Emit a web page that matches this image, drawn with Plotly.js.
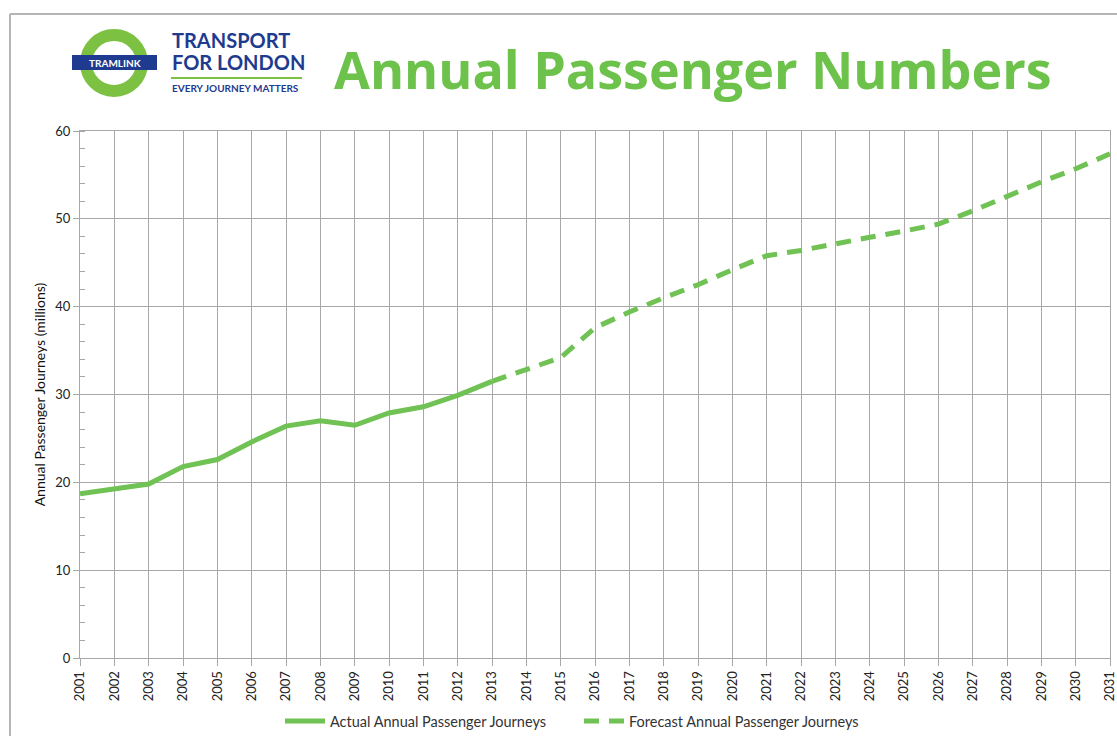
<!DOCTYPE html>
<html><head><meta charset="utf-8">
<script src="https://cdn.plot.ly/plotly-3.0.1.min.js"></script>
<style>html,body{margin:0;padding:0;background:#fff;overflow:hidden}#chart{width:1117px;height:736px}</style>
</head><body><div id="chart"></div>
<script>
// ---- data ----
const actualYears = [2001,2002,2003,2004,2005,2006,2007,2008,2009,2010,2011,2012,2013];
const actualValues = [18.7,19.25,19.8,21.8,22.6,24.6,26.4,27.0,26.5,27.9,28.6,29.9,31.5];
const forecastYears = [2013,2014,2015,2016,2017,2018,2019,2020,2021,2022,2023,2024,2025,2026,2027,2028,2029,2030,2031];
const forecastValues = [31.5,32.8,34.2,37.6,39.4,41.0,42.5,44.2,45.8,46.4,47.2,47.9,48.6,49.4,50.9,52.6,54.2,55.7,57.4];
const yearTickValues = [2001,2002,2003,2004,2005,2006,2007,2008,2009,2010,2011,2012,2013,2014,2015,2016,2017,2018,2019,2020,2021,2022,2023,2024,2025,2026,2027,2028,2029,2030,2031];
const yearTickLabels = yearTickValues.map(String);
const seriesNames = ['Actual Annual Passenger Journeys', 'Forecast Annual Passenger Journeys'];
const chartTitle = 'Annual Passenger Numbers';
const yAxisTitle = 'Annual Passenger Journeys (millions)';

// ---- layout helpers ----
const W = 1117, H = 736;
const M = {l: 80, r: 7, t: 131, b: 78};
const PW = W - M.l - M.r, PH = H - M.t - M.b;
const px = x => (x - M.l) / PW;
const py = y => (H - M.b - y) / PH;

const green = '#6fc253';
const titleGreen = '#6cc24a';
const logoGreen = '#7cc142';
const blue = '#1e3b8f';
const grid = '#a8a8a8';

const traces = [
  {x: actualYears, y: actualValues, name: seriesNames[0], type: 'scatter', mode: 'lines',
   line: {color: green, width: 5}},
  {x: forecastYears, y: forecastValues, name: seriesNames[1], type: 'scatter', mode: 'lines',
   line: {color: green, width: 5, dash: '15px,10px'}}
];

const shapes = [
  {type: 'line', xref: 'paper', yref: 'paper', x0: px(10), x1: px(1117), y0: py(14), y1: py(14), line: {color: '#b5b5b5', width: 2}},
  {type: 'line', xref: 'paper', yref: 'paper', x0: px(10), x1: px(10), y0: py(14), y1: py(736), line: {color: '#b5b5b5', width: 2}},
  {type: 'circle', xref: 'paper', yref: 'paper', x0: px(86), x1: px(142), y0: py(35), y1: py(91), line: {color: logoGreen, width: 12}, fillcolor: 'rgba(0,0,0,0)'},
  {type: 'rect', xref: 'paper', yref: 'paper', x0: px(72), x1: px(157), y0: py(55), y1: py(70), line: {width: 0}, fillcolor: blue},
  {type: 'line', xref: 'paper', yref: 'paper', x0: px(171), x1: px(302), y0: py(78), y1: py(78), line: {color: logoGreen, width: 2}}
];

const annotations = [
  {text: '<b>TRAMLINK</b>', xref: 'paper', yref: 'paper', x: px(114.5), y: py(62.5), xanchor: 'center', yanchor: 'middle', showarrow: false,
   font: {family: 'Lato, sans-serif', size: 10, color: '#ffffff'}},
  {text: '<b>TRANSPORT</b>', xref: 'paper', yref: 'paper', x: px(170), y: py(40), xanchor: 'left', yanchor: 'middle', showarrow: false,
   font: {family: 'Lato, sans-serif', size: 20, color: blue}},
  {text: '<b>FOR LONDON</b>', xref: 'paper', yref: 'paper', x: px(170), y: py(62), xanchor: 'left', yanchor: 'middle', showarrow: false,
   font: {family: 'Lato, sans-serif', size: 20, color: blue}},
  {text: '<b>EVERY JOURNEY MATTERS</b>', xref: 'paper', yref: 'paper', x: px(170), y: py(88), xanchor: 'left', yanchor: 'middle', showarrow: false,
   font: {family: 'Lato, sans-serif', size: 10, color: blue}},
  {text: '<b>' + chartTitle + '</b>', xref: 'paper', yref: 'paper', x: px(332), y: py(69), xanchor: 'left', yanchor: 'middle', showarrow: false,
   font: {family: '"Open Sans", sans-serif', size: 52, color: titleGreen}}
];

const layout = {
  width: W, height: H,
  margin: M,
  paper_bgcolor: '#ffffff', plot_bgcolor: '#ffffff',
  font: {family: 'Lato, "Open Sans", sans-serif', color: '#222'},
  showlegend: true,
  legend: {orientation: 'h', xref: 'container', yref: 'container', x: 280 / W, xanchor: 'left', y: 1 - 721 / H, yanchor: 'middle',
           entrywidth: 244, itemwidth: 40, font: {size: 14.5, color: '#333'}, bgcolor: 'rgba(0,0,0,0)'},
  xaxis: {
    range: [2001, 2031], tickvals: yearTickValues, ticktext: yearTickLabels, tickangle: -90,
    automargin: false, ticklabeloverflow: 'allow',
    showgrid: true, gridcolor: grid, gridwidth: 1, zeroline: false,
    showline: true, linecolor: grid, linewidth: 1, mirror: true,
    ticks: 'outside', ticklen: 7, tickcolor: grid, tickfont: {size: 13, color: '#222'}
  },
  yaxis: {
    range: [0, 60], dtick: 10, tick0: 0, automargin: false,
    showgrid: true, gridcolor: grid, gridwidth: 1, zeroline: false,
    showline: true, linecolor: grid, linewidth: 1, mirror: true,
    ticks: 'outside', ticklen: 6, tickcolor: grid, tickfont: {size: 13, color: '#222'},
    minor: {dtick: 2, ticks: 'inside', ticklen: 5, tickcolor: grid, showgrid: false},
    title: {text: yAxisTitle, font: {size: 14, color: '#111'}, standoff: 6}
  },
  shapes: shapes,
  annotations: annotations
};

Plotly.newPlot('chart', traces, layout, {displayModeBar: false, staticPlot: true});
</script>
</body></html>
